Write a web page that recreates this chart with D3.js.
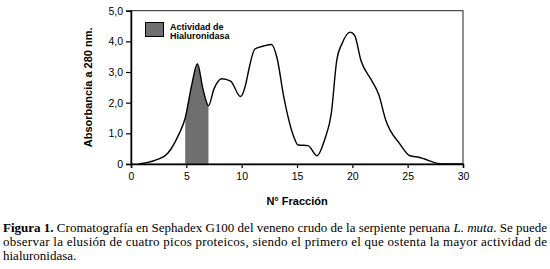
<!DOCTYPE html>
<html>
<head>
<meta charset="utf-8">
<script src="https://cdn.jsdelivr.net/npm/d3@7"></script>
<style>
  html, body { margin: 0; padding: 0; background: #fff; }
  svg { display: block; }
</style>
</head>
<body>
<div id="chart"></div>
<script>
// fracciones y absorbancia
const fraccion = [0.7, 3, 4.3, 4.9, 5.5, 6, 6.5, 7, 7.5, 8.2, 9, 9.9, 10.4, 10.6, 11.2, 12, 12.7, 13.2, 13.8, 14.7, 15.1, 16, 16.8, 17.5, 18.1, 18.6, 19.1, 19.8, 20.2, 20.8, 21.7, 22.4, 23, 24.3, 25.2, 26, 28.1, 30];
const absorbancia = [0, 0.25, 0.95, 1.5, 2.6, 3.27, 2.45, 1.9, 2.45, 2.78, 2.7, 2.2, 2.65, 3.0, 3.75, 3.85, 3.9, 3.45, 2.2, 0.9, 0.62, 0.6, 0.27, 0.8, 1.65, 3.4, 3.95, 4.3, 4.2, 3.35, 2.75, 2.25, 1.45, 0.65, 0.27, 0.22, 0, 0];
const actividad = [4.9, 7.0]; // rango con actividad de hialuronidasa
const xTicks = [0, 5, 10, 15, 20, 25, 30];
const yTicks = [0, 1, 2, 3, 4, 5];

const w = 550, h = 269;
const margin = {top: 10.7, right: 87, bottom: 105, left: 131};
const svg = d3.select("#chart").append("svg").attr("width", w).attr("height", h);

const data = fraccion.map((f, i) => ({x: f, y: absorbancia[i]}));
const xScale = d3.scaleLinear().domain([0, 30]).range([margin.left, w - margin.right]);
const yScale = d3.scaleLinear().domain([0, 5]).range([h - margin.bottom, margin.top]);
const curve = d3.curveMonotoneX;

// area sombreada (actividad)
const shade = data.filter(d => d.x >= actividad[0] && d.x <= actividad[1]);
svg.append("path")
  .datum(shade)
  .attr("d", d3.area().x(d => xScale(d.x)).y0(yScale(0)).y1(d => yScale(d.y)).curve(curve))
  .attr("fill", "#6f6f6f");

// marco
svg.append("rect")
  .attr("x", xScale(0)).attr("y", yScale(5))
  .attr("width", xScale(30) - xScale(0)).attr("height", yScale(0) - yScale(5))
  .attr("fill", "none").attr("stroke", "#222").attr("stroke-width", 1);

svg.append("path")
  .datum(data)
  .attr("d", d3.line().x(d => xScale(d.x)).y(d => yScale(d.y)).curve(curve))
  .attr("fill", "none").attr("stroke", "#000").attr("stroke-width", 1.4);

const fmt = d => d3.format(".1f")(d).replace(".", ",");
const yAxis = svg.append("g").attr("transform", `translate(${margin.left},0)`)
  .call(d3.axisLeft(yScale).tickValues(yTicks).tickSize(5).tickPadding(3).tickFormat(d => d === 0 ? "0" : fmt(d)));
const xAxis = svg.append("g").attr("transform", `translate(0,${yScale(0)})`)
  .call(d3.axisBottom(xScale).tickValues(xTicks).tickSize(4).tickPadding(5));
[yAxis, xAxis].forEach(g => {
  g.select(".domain").attr("stroke", "#000").attr("stroke-width", 1.5);
  g.selectAll(".tick line").attr("stroke", "#000").attr("stroke-width", 1.2);
  g.selectAll("text").attr("fill", "#000").style("font-family", "Liberation Sans, Arial, sans-serif").style("font-size", "10.5px");
});

// titulos de ejes
svg.append("text")
  .attr("transform", `translate(92,${(yScale(0) + yScale(5)) / 2}) rotate(-90)`)
  .attr("text-anchor", "middle")
  .style("font-family", "Liberation Sans, Arial, sans-serif").style("font-size", "11px").style("font-weight", "bold")
  .text("Absorbancia a 280 nm.");
svg.append("text")
  .attr("x", (xScale(0) + xScale(30)) / 2).attr("y", 205)
  .attr("text-anchor", "middle")
  .style("font-family", "Liberation Sans, Arial, sans-serif").style("font-size", "11px").style("font-weight", "bold")
  .text("N° Fracción");

// leyenda
svg.append("rect").attr("x", 145.5).attr("y", 22.5).attr("width", 18).attr("height", 14)
  .attr("fill", "#707070").attr("stroke", "#000").attr("stroke-width", 1);
const leg = svg.append("text").attr("x", 170).attr("y", 29.5)
  .style("font-family", "Liberation Sans, Arial, sans-serif").style("font-size", "9px").style("font-weight", "bold");
leg.append("tspan").attr("x", 170).text("Actividad de");
leg.append("tspan").attr("x", 170).attr("dy", 9).text("Hialuronidasa");

// leyenda de la figura
const serif = "Liberation Serif, Times New Roman, serif";
const l1 = svg.append("text").attr("x", 3).attr("y", 232)
  .attr("textLength", 544).attr("lengthAdjust", "spacing")
  .style("font-family", serif).style("font-size", "13px");
l1.append("tspan").style("font-weight", "bold").text("Figura 1.");
l1.append("tspan").text(" Cromatografía en Sephadex G100 del veneno crudo de la serpiente peruana ");
l1.append("tspan").style("font-style", "italic").text("L. muta");
l1.append("tspan").text(". Se puede");
svg.append("text").attr("x", 3).attr("y", 246)
  .attr("textLength", 544).attr("lengthAdjust", "spacing")
  .style("font-family", serif).style("font-size", "13px")
  .text("observar la elusión de cuatro picos proteicos, siendo el primero el que ostenta la mayor actividad de");
svg.append("text").attr("x", 3).attr("y", 260)
  .style("font-family", serif).style("font-size", "13px")
  .text("hialuronidasa.");
</script>
</body>
</html>
